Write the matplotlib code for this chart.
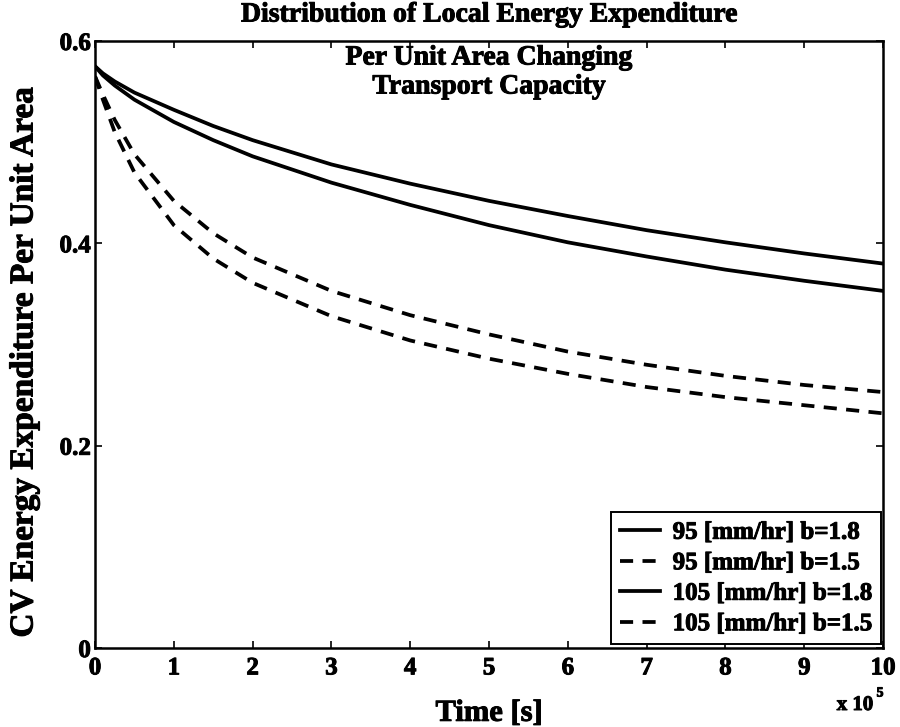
import matplotlib
matplotlib.use('Agg')
import matplotlib.pyplot as plt
import matplotlib.patheffects as pe

plt.rcParams['font.family'] = ['Liberation Serif', 'DejaVu Serif']
plt.rcParams['font.weight'] = 'bold'

# time in units of 1e5 s
t = [0, 0.1, 0.25, 0.5, 1, 1.5, 2, 3, 4, 5, 6, 7, 8, 9, 10]

e95_b18 = [0.575, 0.568, 0.560, 0.549, 0.532, 0.516, 0.502, 0.478, 0.459, 0.442, 0.427, 0.413, 0.401, 0.390, 0.380]
e95_b15 = [0.565, 0.547, 0.522, 0.488, 0.442, 0.410, 0.386, 0.353, 0.329, 0.310, 0.293, 0.280, 0.269, 0.260, 0.253]
e105_b18 = [0.575, 0.566, 0.556, 0.542, 0.520, 0.502, 0.486, 0.460, 0.438, 0.418, 0.401, 0.387, 0.374, 0.363, 0.353]
e105_b15 = [0.565, 0.542, 0.510, 0.470, 0.418, 0.385, 0.361, 0.328, 0.304, 0.286, 0.271, 0.258, 0.248, 0.240, 0.232]

labels = ['95 [mm/hr] b=1.8', '95 [mm/hr] b=1.5', '105 [mm/hr] b=1.8', '105 [mm/hr] b=1.5']

heavy = [pe.withStroke(linewidth=0.7, foreground='black')]

fig = plt.figure(figsize=(9, 7.27), dpi=100)
ax = fig.add_axes([0.1056, 0.1086, 0.8756, 0.8350])

ax.plot(t, e95_b18, 'k-', lw=2.7, label=labels[0])
ax.plot(t, e95_b15, 'k--', lw=2.7, dashes=(3.5, 2.5), label=labels[1])
ax.plot(t, e105_b18, 'k-', lw=2.7, label=labels[2])
ax.plot(t, e105_b15, 'k--', lw=2.7, dashes=(3.5, 2.5), label=labels[3])

ax.set_xlim(0, 10)
ax.set_ylim(0, 0.6)
ax.set_xticks(range(0, 11))
ax.set_yticks([0, 0.2, 0.4, 0.6])
ax.set_yticklabels(['0', '0.2', '0.4', '0.6'])
ax.tick_params(direction='in', length=5, width=1.2, top=True, right=True,
               labelsize=18)
ax.tick_params(axis='x', pad=6)
ax.tick_params(axis='y', pad=3)
for lab in ax.get_xticklabels() + ax.get_yticklabels():
    lab.set_path_effects(heavy)
for s in ax.spines.values():
    s.set_linewidth(1.8)

ax.set_xlabel('Time [s]', fontsize=22, fontweight='bold', labelpad=14,
              path_effects=heavy)
fig.text(24 / 900, 1 - 362 / 727, 'CV Energy Expenditure Per Unit Area',
         fontsize=24, fontweight='bold', rotation=90, ha='center',
         va='center', path_effects=heavy)

# scale factor on x axis
fig.text(855 / 900, 1 - 705 / 727, 'x 10', fontsize=15, fontweight='bold',
         ha='center', va='center', path_effects=heavy)
fig.text(880 / 900, 1 - 693 / 727, '5', fontsize=10, fontweight='bold',
         ha='center', va='center', path_effects=heavy)

# three-line title straddling the top of the axes
cx = 489 / 900
for txt, ypx in [('Distribution of Local Energy Expenditure', 15),
                 ('Per Unit Area Changing', 58),
                 ('Transport Capacity', 87)]:
    fig.text(cx, 1 - ypx / 727, txt, fontsize=20, fontweight='bold',
             ha='center', va='center', path_effects=heavy)

leg = ax.legend(loc='lower right', bbox_to_anchor=(881 / 900, 1 - 644 / 727),
                bbox_transform=fig.transFigure, borderaxespad=0,
                fancybox=False, framealpha=1, edgecolor='black',
                prop={'size': 18, 'weight': 'bold'}, handlelength=1.6,
                handletextpad=0.5, labelspacing=0.3, borderpad=0.35)
leg.get_frame().set_linewidth(1.4)
for txt in leg.get_texts():
    txt.set_path_effects(heavy)

fig.savefig('out.png', dpi=100)
